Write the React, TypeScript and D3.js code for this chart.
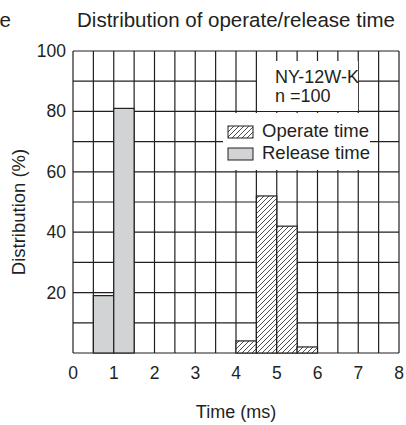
import React from 'react';
import * as d3 from 'd3';

const binWidth = 0.5;
const releaseStarts = [0.5, 1.0];
const releaseValues = [19, 81];
const operateStarts = [4.0, 4.5, 5.0, 5.5];
const operateValues = [4, 52, 42, 2];
const xTicks = [0, 1, 2, 3, 4, 5, 6, 7, 8];
const yTicks = [20, 40, 60, 80, 100];
const title = 'Distribution of operate/release time';
const modelLabel = 'NY-12W-K';
const countLabel = 'n =100';
const seriesNames = ['Operate time', 'Release time'];

const width = 406;
const height = 425;
const marginLeft = 73;
const marginRight = 7;
const marginTop = 51;
const marginBottom = 72;
const font = '"Liberation Sans", Arial, sans-serif';
const ink = '#231f20';
const grey = '#d1d3d4';

const App: React.FC = () => {
    const x = d3.scaleLinear().domain([0, 8]).range([marginLeft, width - marginRight]);
    const y = d3.scaleLinear().domain([0, 100]).range([height - marginBottom, marginTop]);
    const vGrid = d3.range(0, 8.01, 0.5);
    const hGrid = d3.range(0, 100.1, 10);

    return (
        <div style={{ position: 'fixed', left: 0, top: 0 }}>
            <svg width={width} height={height} style={{ display: 'block' }} fontFamily={font}>
                <defs>
                    <pattern id="hatch" patternUnits="userSpaceOnUse" width="5" height="5">
                        <rect width="5" height="5" fill="#fff" />
                        <path d="M-1,1 L1,-1 M0,5 L5,0 M4,6 L6,4" stroke={ink} strokeWidth="0.8" />
                    </pattern>
                </defs>
                <rect width={width} height={height} fill="#fff" />
                <text x={11} y={27} fontSize={20.5} fill={ink} textAnchor="end">e</text>
                <text x={(x(0) + x(8)) / 2} y={27} fontSize={20.5} fill={ink} textAnchor="middle">{title}</text>

                <g stroke={ink} strokeWidth="1.2">
                    {vGrid.map(v => (
                        <line key={'v' + v} x1={x(v)} x2={x(v)} y1={y(0)} y2={y(100)} />
                    ))}
                    {hGrid.map(v => (
                        <line key={'h' + v} x1={x(0)} x2={x(8)} y1={y(v)} y2={y(v)} />
                    ))}
                </g>

                <g stroke={ink} strokeWidth="1.2">
                    {releaseStarts.map((s, i) => (
                        <rect key={'r' + i} x={x(s)} y={y(releaseValues[i])}
                            width={x(s + binWidth) - x(s)} height={y(0) - y(releaseValues[i])} fill={grey} />
                    ))}
                    {operateStarts.map((s, i) => (
                        <rect key={'o' + i} x={x(s)} y={y(operateValues[i])}
                            width={x(s + binWidth) - x(s)} height={y(0) - y(operateValues[i])} fill="url(#hatch)" />
                    ))}
                </g>

                <rect x={257} y={61} width={101} height={50} fill="#fff" />
                <text x={275} y={83} fontSize={18} fill={ink}>{modelLabel}</text>
                <text x={275} y={102} fontSize={18} fill={ink}>{countLabel}</text>

                <rect x={223} y={113} width={147} height={57} fill="#fff" />
                <rect x={228} y={126} width={25} height={12} fill="url(#hatch)" stroke={ink} strokeWidth="1" />
                <rect x={228} y={148} width={25} height={12} fill={grey} stroke={ink} strokeWidth="1" />
                <text x={262} y={137} fontSize={18.5} fill={ink}>{seriesNames[0]}</text>
                <text x={262} y={159} fontSize={18.5} fill={ink}>{seriesNames[1]}</text>

                {yTicks.map(t => (
                    <text key={'yt' + t} x={x(0) - 7} y={y(t) + 6} fontSize={17.5} fill={ink} textAnchor="end">{t}</text>
                ))}
                {xTicks.map(t => (
                    <text key={'xt' + t} x={x(t)} y={379} fontSize={17.5} fill={ink} textAnchor="middle">{t}</text>
                ))}
                <text x={(x(0) + x(8)) / 2} y={418} fontSize={18} fill={ink} textAnchor="middle">Time (ms)</text>
                <text transform={`translate(25,${(y(0) + y(100)) / 2 + 10}) rotate(-90)`} fontSize={18.5} fill={ink}
                    textAnchor="middle">Distribution (%)</text>
            </svg>
        </div>
    );
};

export default App;
